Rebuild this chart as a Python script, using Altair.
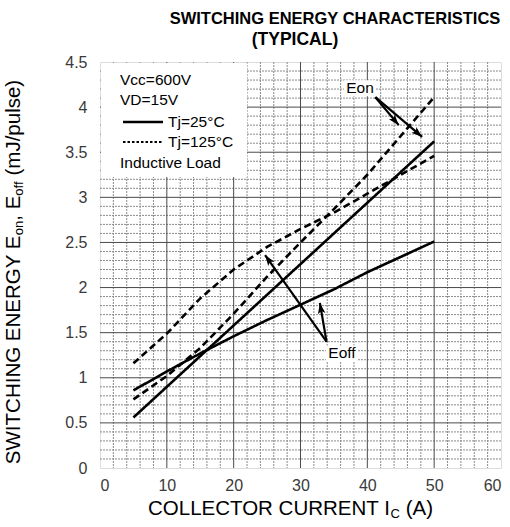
import math
import altair as alt
import pandas as pd

# ---- curve data: collector current (A) vs switching energy (mJ/pulse) ----
ic = [5, 10, 15, 20, 25, 30, 35, 40, 45, 50]
eon_25 = [0.56, 0.90, 1.24, 1.58, 1.92, 2.26, 2.60, 2.94, 3.28, 3.62]
eoff_25 = [0.86, 1.07, 1.27, 1.46, 1.64, 1.81, 1.98, 2.17, 2.34, 2.51]
eon_125 = [0.76, 1.02, 1.33, 1.71, 2.12, 2.50, 2.87, 3.25, 3.68, 4.11]
eoff_125 = [1.16, 1.49, 1.88, 2.20, 2.45, 2.65, 2.83, 3.04, 3.25, 3.46]

# ---- axes ----
x_ticks = [0, 10, 20, 30, 40, 50, 60]
y_ticks = [0, 0.5, 1, 1.5, 2, 2.5, 3, 3.5, 4, 4.5]
X_MAX, Y_MAX = 60, 4.5

# ---- annotation anchors (data units) ----
eon_label = (38.9, 4.21)
eon_arrow_start = (41.2, 4.11)
eon_arrow_tips = [(44.7, 3.80), (48.2, 3.67)]
eoff_label = (36.2, 1.27)
eoff_arrow_start = (33.9, 1.40)
eoff_arrow_tips = [(24.7, 2.36), (32.9, 1.83)]

# ---- layout ----
W, H = 401, 406
PAD = {"left": 100, "top": 62, "right": 9, "bottom": 59}
PX_X, PX_Y = W / X_MAX, H / Y_MAX
FONT = "Liberation Sans"

# Arial / Liberation Sans advance widths (1/1000 em) for text layout
ADV = {" ": 278, "(": 333, ")": 333, ",": 278, "/": 278, ".": 278,
       "A": 667, "C": 722, "E": 667, "G": 778, "H": 722, "I": 278, "J": 500,
       "L": 556, "N": 722, "O": 778, "R": 722, "S": 667, "T": 611, "U": 722,
       "W": 944, "Y": 667, "e": 556, "f": 278, "l": 222, "m": 833, "n": 556,
       "o": 556, "p": 556, "s": 500, "u": 556}


def text_width(s, size):
    return sum(ADV.get(c, 556) for c in s) * size / 1000


# ---- curves ----
rows = []
for name, temp, vals in [("Eon", "25", eon_25), ("Eoff", "25", eoff_25),
                         ("Eon", "125", eon_125), ("Eoff", "125", eoff_125)]:
    for x, y in zip(ic, vals):
        rows.append({"ic": x, "e": y, "curve": f"{name} {temp}", "tj": temp})
curves = pd.DataFrame(rows)

xs = alt.Scale(domain=[0, X_MAX], nice=False)
ys = alt.Scale(domain=[0, Y_MAX], nice=False)

# ---- grid ----
x_minor = pd.DataFrame({"v": [v for v in range(0, X_MAX + 1, 2) if v % 10]})
x_major = pd.DataFrame({"v": [v for v in x_ticks if 0 < v < X_MAX]})
y_minor = pd.DataFrame({"v": [round(i * 0.1, 1) for i in range(1, 45) if i % 5]})
y_major = pd.DataFrame({"v": [v for v in y_ticks if 0 < v < Y_MAX]})

MINOR = dict(color="#8a8a8a", strokeWidth=1, strokeDash=[2, 1])
grid_minor_x = alt.Chart(x_minor).mark_rule(**MINOR).encode(x=alt.X("v:Q", scale=xs))
grid_minor_y = alt.Chart(y_minor).mark_rule(**MINOR).encode(y=alt.Y("v:Q", scale=ys))
grid_major_x = alt.Chart(x_major).mark_rule(color="#4a4a4a", strokeWidth=1).encode(
    x=alt.X("v:Q", scale=xs))
grid_major_y = alt.Chart(y_major).mark_rule(color="#4a4a4a", strokeWidth=1).encode(
    y=alt.Y("v:Q", scale=ys))

# ---- base with axes ----
axis_common = dict(
    grid=False, ticks=False, domain=False, labelFont=FONT, labelFontSize=16,
    labelColor="#3a3a3a", title=None,
)
base_axes = alt.Chart(pd.DataFrame({"ic": [0], "e": [0]})).mark_point(opacity=0).encode(
    x=alt.X("ic:Q", scale=xs, axis=alt.Axis(values=x_ticks, labelPadding=9, **axis_common)),
    y=alt.Y("e:Q", scale=ys, axis=alt.Axis(values=y_ticks, labelPadding=13,
                                           labelExpr="datum.value", **axis_common)),
)

lines = alt.Chart(curves).mark_line(color="black", strokeWidth=2.6).encode(
    x=alt.X("ic:Q", scale=xs),
    y=alt.Y("e:Q", scale=ys),
    detail="curve:N",
    strokeDash=alt.StrokeDash("tj:N", scale=alt.Scale(domain=["25", "125"],
                                                      range=[[1, 0], [7, 4]]),
                              legend=None),
)

# ---- arrows ----
arrow_rows = []
for start, tips in [(eon_arrow_start, eon_arrow_tips), (eoff_arrow_start, eoff_arrow_tips)]:
    for tip in tips:
        dx = (tip[0] - start[0]) * PX_X
        dy = -(tip[1] - start[1]) * PX_Y
        ang = math.degrees(math.atan2(dx, -dy)) % 360
        arrow_rows.append({"x0": start[0], "y0": start[1], "x1": tip[0], "y1": tip[1],
                           "ang": ang})
arrows = pd.DataFrame(arrow_rows)

arrow_shafts = alt.Chart(arrows).mark_rule(color="black", strokeWidth=2.2).encode(
    x=alt.X("x0:Q", scale=xs), y=alt.Y("y0:Q", scale=ys), x2="x1:Q", y2="y1:Q")
# barbed head: tip at the symbol origin, body trailing back along the shaft
arrow_heads = alt.Chart(arrows).mark_point(
    shape="M0,0L-0.95,2.7L0,2.05L0.95,2.7Z", size=64, filled=True, color="black",
    opacity=1, strokeWidth=0
).encode(x=alt.X("x1:Q", scale=xs), y=alt.Y("y1:Q", scale=ys),
         angle=alt.Angle("ang:Q", scale=None))

labels = pd.DataFrame({"x": [eon_label[0], eoff_label[0]], "y": [eon_label[1], eoff_label[1]],
                       "t": ["Eon", "Eoff"]})
label_boxes = alt.Chart(labels).mark_point(
    shape="M-1,-0.5L1,-0.5L1,0.5L-1,0.5Z", size=1024, filled=True, color="white", opacity=1
).encode(x=alt.X("x:Q", scale=xs), y=alt.Y("y:Q", scale=ys))
label_text = alt.Chart(labels).mark_text(font=FONT, fontSize=15.5, color="black").encode(
    x=alt.X("x:Q", scale=xs), y=alt.Y("y:Q", scale=ys), text="t:N")

# ---- legend block (top-left of plot) ----
legend_box = alt.Chart(pd.DataFrame({"a": [0]})).mark_rect(color="white").encode(
    x=alt.value(1), x2=alt.value(147), y=alt.value(1), y2=alt.value(115))
legend_lines = [
    ("Vcc=600V", 20, 18), ("VD=15V", 20, 38), ("Tj=25°C", 68, 60),
    ("Tj=125°C", 68, 80), ("Inductive Load", 20, 101),
]
legend_text = [
    alt.Chart(pd.DataFrame({"t": [t]})).mark_text(
        font=FONT, fontSize=15.5, align="left", baseline="middle", color="black"
    ).encode(text="t:N", x=alt.value(x), y=alt.value(y))
    for t, x, y in legend_lines
]
legend_solid = alt.Chart(pd.DataFrame({"a": [0]})).mark_rule(
    color="black", strokeWidth=2.6).encode(x=alt.value(23), x2=alt.value(63), y=alt.value(60))
legend_dash = alt.Chart(pd.DataFrame({"a": [0]})).mark_rule(
    color="black", strokeWidth=2, strokeDash=[2.5, 2]).encode(
    x=alt.value(23), x2=alt.value(63), y=alt.value(80))


# ---- titles ----
def rich_text(segments, x0, y0, vertical=False):
    """Lay out text segments (text, size, shift) one after another."""
    layers = []
    pos = 0.0
    for txt, size, shift in segments:
        lead = len(txt) - len(txt.lstrip(" "))
        pos += text_width(txt[:lead], size)
        body = txt.lstrip(" ")
        if vertical:
            enc = dict(x=alt.value(x0 + shift), y=alt.value(y0 - pos))
            angle = 270
        else:
            enc = dict(x=alt.value(x0 + pos), y=alt.value(y0 + shift))
            angle = 0
        layers.append(
            alt.Chart(pd.DataFrame({"t": [body]})).mark_text(
                font=FONT, fontSize=size, align="left", baseline="alphabetic",
                color="black", angle=angle,
            ).encode(text="t:N", **enc)
        )
        pos += text_width(body, size)
    return layers, pos


TS, SS = 20.5, 13
x_title_segs = [("COLLECTOR CURRENT I", TS, 0), ("C", SS, 3), (" (A)", TS, 0)]
_, xw = rich_text(x_title_segs, 0, 0)
x_title, _ = rich_text(x_title_segs, W / 2 - 10 - xw / 2, 453)

y_title_segs = [("SWITCHING ENERGY E", TS, 0), ("on", SS, 3), (", E", TS, 0),
                ("off", SS, 3), (" (mJ/pulse)", TS, 0)]
_, yw = rich_text(y_title_segs, 0, 0, vertical=True)
y_title, _ = rich_text(y_title_segs, -80.5, 210 + yw / 2, vertical=True)

title1 = alt.Chart(pd.DataFrame({"t": ["SWITCHING ENERGY CHARACTERISTICS"]})).mark_text(
    font=FONT, fontSize=16.5, fontWeight="bold", align="center", baseline="middle", color="black"
).encode(text="t:N", x=alt.value(235), y=alt.value(-43))
title2 = alt.Chart(pd.DataFrame({"t": ["(TYPICAL)"]})).mark_text(
    font=FONT, fontSize=17.5, fontWeight="bold", align="center", baseline="middle", color="black"
).encode(text="t:N", x=alt.value(195), y=alt.value(-22))

chart = alt.layer(
    base_axes, grid_minor_x, grid_minor_y, grid_major_x, grid_major_y,
    legend_box, lines, arrow_shafts, arrow_heads, label_boxes, label_text,
    legend_solid, legend_dash, *legend_text, *x_title, *y_title, title1, title2,
).properties(
    width=W, height=H, autosize=alt.AutoSizeParams(type="none"), padding=PAD,
).configure_view(stroke="#3a3a3a", strokeWidth=2.5).configure(background="white")

chart.save("out.html", embed_options={"renderer": "svg", "actions": False})
